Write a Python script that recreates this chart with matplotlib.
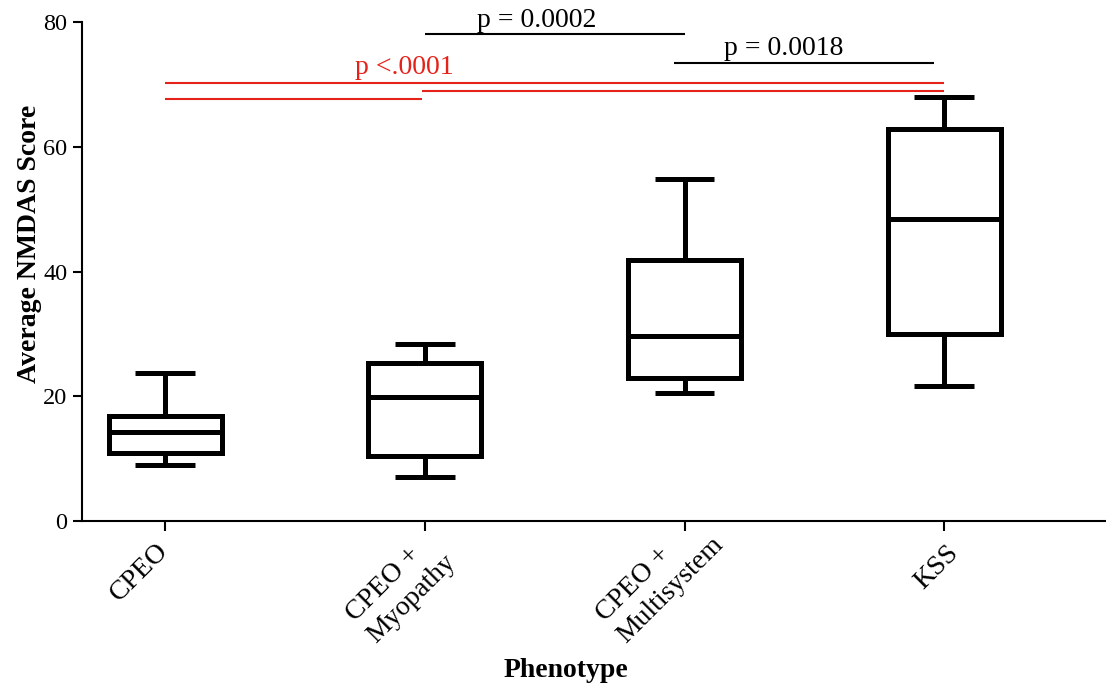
import matplotlib
matplotlib.use("Agg")
import matplotlib.pyplot as plt
import matplotlib.transforms as mtransforms

plt.rcParams['font.family'] = ['Liberation Serif', 'DejaVu Serif']

# Phenotype groups and box-plot summary values (NMDAS score)
categories = ["CPEO", "CPEO +\nMyopathy", "CPEO +\nMultisystem", "KSS"]
whisker_low = [8.9, 7.05, 20.5, 21.6]
quartile_1 = [10.9, 10.5, 23.0, 29.9]
medians = [14.3, 19.9, 29.7, 48.4]
quartile_3 = [16.8, 25.4, 41.8, 62.8]
whisker_high = [23.8, 28.3, 54.8, 67.9]

# Pairwise comparison brackets: (x start, x end, y, colour)
brackets = [
    (1.0, 2.0, 78.1, "black"),
    (1.96, 2.96, 73.4, "black"),
    (0.0, 3.0, 70.2, "#e5221a"),
    (0.0, 0.99, 67.6, "#e5221a"),
    (0.99, 3.0, 69.0, "#e5221a"),
]
# p-value labels: (text, x centre, baseline y, colour)
p_labels = [
    ("p = 0.0002", 1.43, 79.2, "black"),
    ("p = 0.0018", 2.38, 74.7, "black"),
    ("p <.0001", 0.92, 71.7, "#e5221a"),
]
# anchor of each rotated category label relative to its tick (pixels right, down)
label_offsets = [(-46, 81), (-52, 119), (-62, 119), (-21, 69)]

fig = plt.figure(figsize=(11.06, 6.87), dpi=100)
ax = fig.add_axes([82 / 1106, 166 / 687, 1024 / 1106, 499 / 687])

stats = []
for i in range(len(categories)):
    stats.append(dict(whislo=whisker_low[i], q1=quartile_1[i], med=medians[i],
                      q3=quartile_3[i], whishi=whisker_high[i], fliers=[]))

lw = 3.6
ax.bxp(stats, positions=range(len(categories)), widths=0.435, capwidths=0.23,
       showfliers=False, patch_artist=False,
       boxprops=dict(color="black", linewidth=lw, solid_joinstyle="miter"),
       medianprops=dict(color="black", linewidth=lw, solid_capstyle="butt"),
       whiskerprops=dict(color="black", linewidth=lw, solid_capstyle="butt"),
       capprops=dict(color="black", linewidth=lw, solid_capstyle="butt"))

for x0, x1, y, c in brackets:
    ax.plot([x0, x1], [y, y], color=c, linewidth=1.5, solid_capstyle="butt",
            clip_on=False)

for txt, x, y, c in p_labels:
    ax.text(x, y, txt, color=c, fontsize=20, ha="center", va="baseline",
            clip_on=False)

ax.set_xlim(-0.32, 3.623)
ax.set_ylim(0, 80)
ax.set_yticks([0, 20, 40, 60, 80])
ax.set_xticks(range(len(categories)))
ax.set_xticklabels([])
ax.tick_params(axis="y", labelsize=17.5, length=6.5, width=1.5, pad=4,
               direction="out")
ax.tick_params(axis="x", length=7.2, width=1.5, direction="out")

# rotated category names, lines left-aligned
base = ax.get_xaxis_transform()
for i, (name, (dx, dy)) in enumerate(zip(categories, label_offsets)):
    shift = mtransforms.ScaledTranslation(dx / 100, -dy / 100, fig.dpi_scale_trans)
    ax.text(i, 0, name, transform=base + shift, fontsize=20, rotation=45,
            rotation_mode="anchor", ha="left", va="baseline",
            multialignment="left", linespacing=1.25, clip_on=False)

for side in ("top", "right"):
    ax.spines[side].set_visible(False)
for side in ("left", "bottom"):
    ax.spines[side].set_linewidth(1.5)

ax.set_ylabel("Average NMDAS Score", fontsize=20, fontweight="bold")
ax.yaxis.set_label_coords(-0.0508, 0.555)
ax.yaxis.label.set_va("center")
ax.set_xlabel("Phenotype", fontsize=20, fontweight="bold")
ax.xaxis.set_label_coords(0.473, -0.2986)
ax.xaxis.label.set_va("center")

fig.savefig("out.png", dpi=100)
